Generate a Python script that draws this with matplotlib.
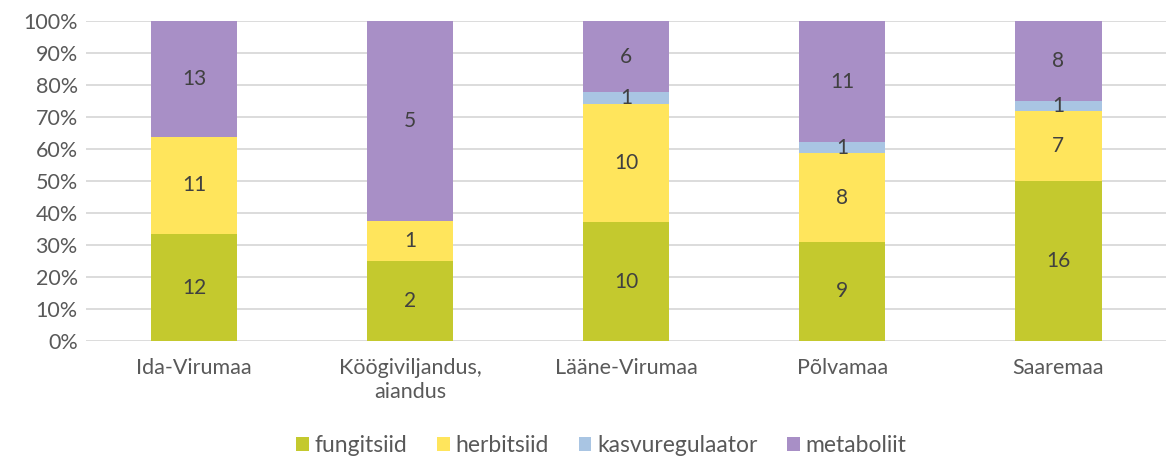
import numpy as np
import matplotlib.pyplot as plt
from matplotlib.ticker import PercentFormatter

# data
categories = ['Ida-Virumaa', 'Köögiviljandus,\naiandus', 'Lääne-Virumaa', 'Põlvamaa', 'Saaremaa']
series = ['fungitsiid', 'herbitsiid', 'kasvuregulaator', 'metaboliit']
fungitsiid = [12, 2, 10, 9, 16]
herbitsiid = [11, 1, 10, 8, 7]
kasvuregulaator = [0, 0, 1, 1, 1]
metaboliit = [13, 5, 6, 11, 8]
colors = ['#C4C92E', '#FFE55C', '#A9C5E3', '#A88FC6']

plt.rcParams['font.family'] = ['Lato', 'DejaVu Sans']

values = np.array([fungitsiid, herbitsiid, kasvuregulaator, metaboliit], dtype=float)
totals = values.sum(axis=0)
shares = values / totals * 100

fig = plt.figure(figsize=(11.68, 4.62), dpi=100)
ax = fig.add_axes([0.0736, 0.262, 0.925, 0.6925])
x = np.arange(len(categories))
bottom = np.zeros(len(categories))
for i, name in enumerate(series):
    ax.bar(x, shares[i], 0.4, bottom=bottom, color=colors[i], label=name, zorder=2)
    for j in range(len(categories)):
        if values[i, j] > 0:
            ax.text(x[j], bottom[j] + shares[i, j] / 2, f'{int(values[i, j])}',
                    ha='center', va='center', fontsize=15, color='#404040', zorder=3)
    bottom += shares[i]

ax.set_ylim(0, 100)
ax.set_xlim(-0.5, len(categories) - 0.5)
ax.set_yticks(np.arange(0, 101, 10))
ax.yaxis.set_major_formatter(PercentFormatter(decimals=0))
ax.set_xticks(x)
ax.set_xticklabels(categories, linespacing=1.25)
ax.tick_params(axis='both', length=0, labelsize=15.5, labelcolor='#595959')
ax.tick_params(axis='x', pad=12)
ax.tick_params(axis='y', pad=6)
ax.grid(axis='y', color='#D9D9D9', linewidth=1.3, zorder=0)
for s in ax.spines.values():
    s.set_visible(False)

fig.legend(loc='lower center', bbox_to_anchor=(0.515, -0.032), ncol=4, frameon=False,
           fontsize=16.5, labelcolor='#595959', handlelength=0.55, handleheight=0.55,
           handletextpad=0.25, columnspacing=1.3)

fig.savefig('out.png', dpi=100)
